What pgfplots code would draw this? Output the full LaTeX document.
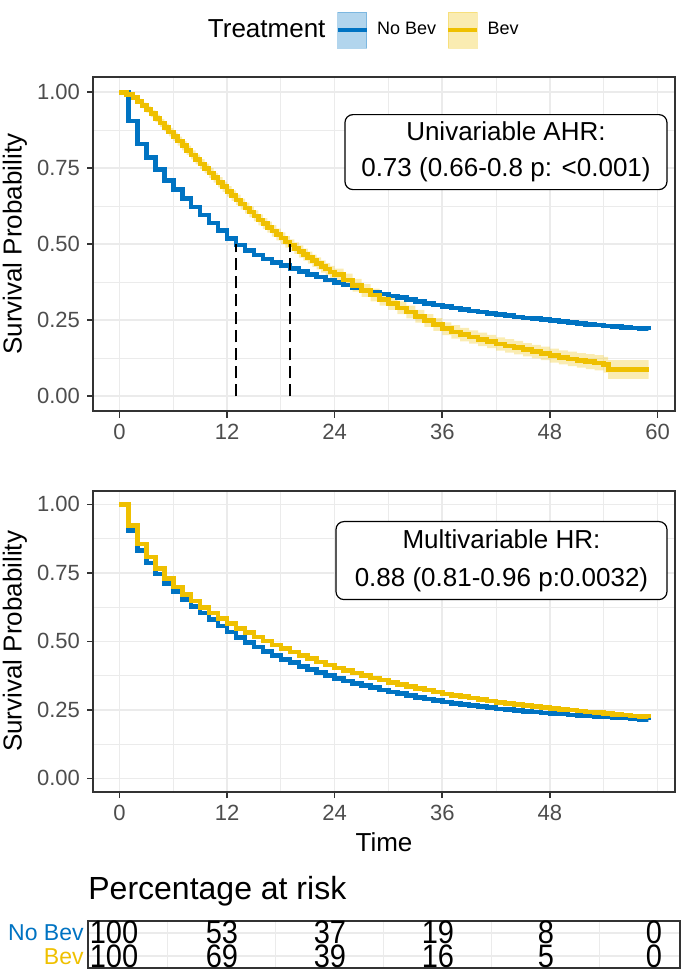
\documentclass[border=0pt]{standalone}
\usepackage{fontspec}
\setmainfont{Liberation Sans}
\usepackage{graphicx}
\usepackage{pgfplots}
\usepackage{pgfplotstable}
\pgfplotsset{compat=1.18}

\definecolor{nobev}{HTML}{0073C2}
\definecolor{bev}{HTML}{EFC000}
\definecolor{gridc}{HTML}{EBEBEB}
\definecolor{axc}{HTML}{333333}
\definecolor{tickc}{HTML}{4D4D4D}

% top panel, univariable KM curves
\pgfplotstableread{
t s
0 1.000
1 0.905
2 0.830
3 0.785
4 0.745
5 0.710
6 0.680
7 0.650
8 0.622
9 0.596
10 0.570
11 0.545
12 0.518
13 0.497
14 0.480
15 0.465
16 0.452
17 0.440
18 0.430
19 0.420
20 0.410
21 0.401
22 0.392
23 0.383
24 0.375
25 0.366
26 0.358
27 0.350
28 0.343
29 0.336
30 0.330
31 0.324
32 0.318
33 0.312
34 0.306
35 0.300
36 0.295
37 0.290
38 0.285
39 0.281
40 0.277
41 0.273
42 0.269
43 0.265
44 0.261
45 0.258
46 0.255
47 0.252
48 0.249
49 0.246
50 0.243
51 0.240
52 0.237
53 0.234
54 0.231
55 0.229
56 0.226
57 0.224
58 0.222
59 0.220
}\topnobev

\pgfplotstableread{
t s
0.0 1.000
0.8 0.993
1.5 0.982
2.0 0.970
2.5 0.957
3.0 0.943
3.5 0.929
4.0 0.914
4.5 0.899
5.0 0.884
5.5 0.869
6.0 0.854
6.5 0.839
7.0 0.824
7.5 0.809
8.0 0.794
8.5 0.779
9.0 0.764
9.5 0.749
10.0 0.734
10.5 0.719
11.0 0.704
11.5 0.689
12.0 0.674
12.5 0.660
13.0 0.646
13.5 0.632
14.0 0.619
14.5 0.606
15.0 0.593
15.5 0.580
16.0 0.568
16.5 0.556
17.0 0.544
17.5 0.532
18.0 0.520
18.5 0.508
19.0 0.497
19.5 0.487
20.0 0.476
20.5 0.466
21.0 0.456
21.5 0.446
22.0 0.437
22.5 0.427
23.0 0.418
23.5 0.409
24.0 0.400
25 0.382
26 0.365
27 0.348
28 0.333
29 0.319
30 0.305
31 0.291
32 0.277
33 0.263
34 0.249
35 0.236
36 0.222
37 0.212
38 0.203
39 0.195
40 0.187
41 0.180
42 0.172
43 0.166
44 0.160
45 0.153
46 0.147
47 0.141
48 0.134
49 0.128
50 0.123
51 0.118
52 0.114
53 0.110
54 0.104
54.5 0.088
59 0.088
}\topbev

% 95% band of the Bev curve: upper limits forward, lower limits back
\pgfplotstableread{
t y
0.0 1.000
0.8 0.997
1.5 0.988
2.0 0.978
2.5 0.966
3.0 0.953
3.5 0.940
4.0 0.926
4.5 0.912
5.0 0.897
5.5 0.883
6.0 0.868
6.5 0.854
7.0 0.839
7.5 0.824
8.0 0.809
8.5 0.795
9.0 0.780
9.5 0.765
10.0 0.750
10.5 0.735
11.0 0.721
11.5 0.706
12.0 0.691
12.5 0.677
13.0 0.663
13.5 0.650
14.0 0.637
14.5 0.624
15.0 0.611
15.5 0.598
16.0 0.586
16.5 0.574
17.0 0.563
17.5 0.551
18.0 0.539
18.5 0.527
19.0 0.516
19.5 0.506
20.0 0.496
20.5 0.486
21.0 0.476
21.5 0.466
22.0 0.457
22.5 0.447
23.0 0.438
23.5 0.429
24.0 0.420
25 0.403
26 0.386
27 0.369
28 0.354
29 0.340
30 0.326
31 0.312
32 0.298
33 0.284
34 0.270
35 0.257
36 0.243
37 0.234
38 0.225
39 0.217
40 0.209
41 0.202
42 0.194
43 0.188
44 0.182
45 0.175
46 0.169
47 0.163
48 0.157
49 0.151
50 0.147
51 0.142
52 0.139
53 0.135
54 0.130
54.5 0.119
59 0.119
59 0.057
54.5 0.078
54 0.085
53 0.089
52 0.094
51 0.099
50 0.105
49 0.111
48 0.119
47 0.125
46 0.131
45 0.138
44 0.144
43 0.150
42 0.158
41 0.165
40 0.173
39 0.181
38 0.190
37 0.201
36 0.215
35 0.228
34 0.242
33 0.256
32 0.270
31 0.284
30 0.298
29 0.312
28 0.327
27 0.344
26 0.361
25 0.380
24.0 0.389
23.5 0.398
23.0 0.407
22.5 0.417
22.0 0.426
21.5 0.436
21.0 0.446
20.5 0.456
20.0 0.468
19.5 0.478
19.0 0.489
18.5 0.501
18.0 0.513
17.5 0.525
17.0 0.538
16.5 0.550
16.0 0.562
15.5 0.575
15.0 0.588
14.5 0.601
14.0 0.614
13.5 0.629
13.0 0.643
12.5 0.657
12.0 0.672
11.5 0.687
11.0 0.703
10.5 0.718
10.0 0.733
9.5 0.748
9.0 0.763
8.5 0.779
8.0 0.794
7.5 0.809
7.0 0.824
6.5 0.840
6.0 0.855
5.5 0.871
5.0 0.886
4.5 0.902
4.0 0.918
3.5 0.933
3.0 0.948
2.5 0.962
2.0 0.976
1.5 0.989
0.8 1.000
0.0 1.000
}\topbevband

% bottom panel, adjusted curves
\pgfplotstableread{
t nobev bev
0 1.000 1.000
1 0.904 0.922
2 0.832 0.856
3 0.786 0.808
4 0.746 0.766
5 0.712 0.729
6 0.682 0.698
7 0.654 0.672
8 0.628 0.647
9 0.603 0.624
10 0.579 0.603
11 0.556 0.583
12 0.535 0.565
13 0.515 0.548
14 0.497 0.532
15 0.480 0.516
16 0.464 0.501
17 0.449 0.487
18 0.435 0.474
19 0.422 0.461
20 0.409 0.449
21 0.397 0.437
22 0.386 0.425
23 0.375 0.414
24 0.365 0.403
25 0.356 0.394
26 0.347 0.385
27 0.339 0.376
28 0.331 0.367
29 0.323 0.359
30 0.316 0.351
31 0.309 0.343
32 0.302 0.336
33 0.296 0.329
34 0.290 0.322
35 0.284 0.315
36 0.279 0.308
37 0.274 0.303
38 0.270 0.298
39 0.266 0.293
40 0.262 0.288
41 0.258 0.283
42 0.254 0.278
43 0.251 0.274
44 0.248 0.270
45 0.245 0.266
46 0.242 0.262
47 0.239 0.258
48 0.237 0.255
49 0.235 0.252
50 0.232 0.249
51 0.230 0.246
52 0.228 0.243
53 0.226 0.240
54 0.224 0.237
55 0.222 0.234
56 0.220 0.231
57 0.218 0.228
58 0.216 0.225
59 0.213 0.222
}\adjusted

\pgfplotstableread{
x y n
0 2 100
12 2 53
24 2 37
36 2 19
48 2 8
60 2 0
0 1 100
12 1 69
24 1 39
36 1 16
48 1 5
60 1 0
}\risk

\pgfplotsset{
  km/.style={
    scale only axis, width=291pt,
    xmin=-2.95, xmax=61.95, ymin=-0.05, ymax=1.05,
    axis line style={axc, line width=1pt},
    tick style={axc, line width=0.8pt},
    major tick length=3pt, minor tick length=0pt,
    tick align=outside, xtick pos=left, ytick pos=left,
    ytick={0,0.25,0.5,0.75,1}, yticklabels={0.00,0.25,0.50,0.75,1.00},
    minor ytick={0.125,0.375,0.625,0.875},
    grid=both,
    major grid style={gridc, line width=0.8pt},
    minor grid style={gridc, line width=0.5pt},
    ticklabel style={font=\fontsize{11}{11}\selectfont, text=tickc},
    /pgf/number format/assume math mode=true,
    label style={font=\fontsize{13}{13}\selectfont},
    ylabel={Survival Probability},
    ylabel style={at={(axis description cs:-0.134,0.5)}, anchor=center},
  },
  curve/.style={const plot, line width=2.3pt, forget plot},
}

\begin{document}
\begin{tikzpicture}
\path[use as bounding box] (0,0) rectangle (342.5pt,-489pt);

% ---- top panel
\begin{axis}[km, at={(46.5pt,-38.5pt)}, anchor=north west, height=167.25pt,
  xtick={0,12,24,36,48,60}, minor xtick={6,18,30,42,54},
  legend style={at={(axis description cs:0.461,1.1405)}, anchor=center,
    draw=none, fill=none, font=\fontsize{9}{9}\selectfont,
    /tikz/every odd column/.append style={column sep=2pt},
    /tikz/every even column/.append style={column sep=3pt}},
  legend columns=3, legend cell align=left,
]
\addlegendimage{empty legend}
\addlegendentry{\fontsize{13}{13}\selectfont Treatment}
\addlegendimage{legend image code/.code={
  \fill[nobev, opacity=0.3] (0pt,-9pt) rectangle (14.5pt,9pt);
  \draw[nobev, line width=2.3pt] (0pt,0pt) -- (14.5pt,0pt);}}
\addlegendentry{No Bev}
\addlegendimage{legend image code/.code={
  \fill[bev, opacity=0.3] (0pt,-9pt) rectangle (14.5pt,9pt);
  \draw[bev, line width=2.3pt] (0pt,0pt) -- (14.5pt,0pt);}}
\addlegendentry{Bev}

\addplot[const plot, fill=bev, fill opacity=0.3, draw=none, forget plot] table[x=t, y=y] {\topbevband};

\addplot[curve, nobev] table[x=t, y=s] {\topnobev};
\addplot[curve, bev] table[x=t, y=s] {\topbev};

% median survival
\addplot[forget plot, black, line width=1.1pt, dash pattern=on 6pt off 3pt] coordinates {(13,0) (13,0.5)};
\addplot[forget plot, black, line width=1.1pt, dash pattern=on 6pt off 3pt] coordinates {(19,0) (19,0.5)};

\node[draw=black, fill=white, rounded corners=4pt, line width=0.6pt, align=center,
  font=\fontsize{13}{18}\selectfont, minimum width=161pt, minimum height=37.5pt, inner sep=2pt]
  at (axis cs:43.1,0.803) {Univariable AHR:\\0.73 (0.66-0.8 p: <0.001)};
\end{axis}

% ---- bottom panel
\begin{axis}[km, at={(46.5pt,-245.35pt)}, anchor=north west, height=150.7pt,
  xtick={0,12,24,36,48}, minor xtick={6,18,30,42,54,60},
  xlabel={Time}, xlabel style={at={(axis description cs:0.5,-0.166)}, anchor=center},
]
\addplot[curve, nobev] table[x=t, y=nobev] {\adjusted};
\addplot[curve, bev] table[x=t, y=bev] {\adjusted};
\node[draw=black, fill=white, rounded corners=4pt, line width=0.6pt, align=center,
  font=\fontsize{13}{19}\selectfont, minimum width=165.5pt, minimum height=39pt, inner sep=2pt]
  at (axis cs:42.6,0.795) {Multivariable HR:\\0.88 (0.81-0.96 p:0.0032)};
\end{axis}

% ---- risk table
\begin{axis}[at={(44pt,-460.5pt)}, anchor=north west, scale only axis,
  width=296pt, height=23.5pt,
  xmin=-2.89, xmax=62.9, ymin=0.5, ymax=2.5,
  xtick={0,12,24,36,48,60}, minor xtick={6,18,30,42,54}, xticklabels={},
  ytick={1,2}, yticklabels={\textcolor{bev}{Bev}, \textcolor{nobev}{No Bev}},
  major tick length=0pt, minor tick length=0pt,
  xminorgrids=true, ymajorgrids=true,
  major grid style={gridc, line width=0.8pt},
  minor grid style={gridc, line width=0.5pt},
  axis line style={axc, line width=1pt},
  yticklabel style={font=\fontsize{11.5}{11.5}\selectfont, inner sep=2pt},
  title={Percentage at risk},
  title style={at={(axis description cs:0,1)}, anchor=south west, inner sep=0pt,
    yshift=1pt, font=\fontsize{16}{16}\selectfont},
]
\addplot[only marks, mark=none, point meta=explicit symbolic,
  nodes near coords={\scalebox{1}[1.12]{\pgfplotspointmeta}},
  every node near coord/.append style={anchor=center, inner sep=0pt,
    font=\fontsize{14.5}{14.5}\selectfont, text=black}]
  table[x=x, y=y, meta=n] {\risk};
\end{axis}
\end{tikzpicture}
\end{document}
